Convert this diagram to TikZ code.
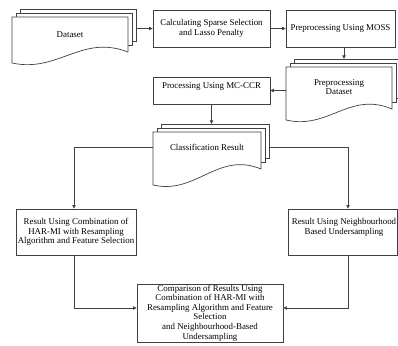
\documentclass[tikz,border=0pt]{standalone}
\usepackage{fontspec}
\setmainfont{Liberation Serif}
\usetikzlibrary{arrows.meta,calc}
\newcommand\docstack[6]{% #1 name, #2 L, #3 T, #4 R, #5 Bl, #6 Br
  \foreach \k in {8,4} {
    \filldraw[ln, fill=white] (#2+\k,#3-\k) rectangle (#4+\k,#6-3-\k);
  }
  \filldraw[ln, fill=white] (#2,#3) -- (#4,#3) -- (#4,#6)
     .. controls ({#2+0.6*(#4-#2)},#6-18) and ({#2+0.4*(#4-#2)},#5+10) .. (#2,#5) -- cycle;
  \node[inner sep=0pt, minimum width={#4+8-#2}, minimum height={#5-#3+8}, anchor=north west] (#1) at (#2,#3-8) {};
}
\begin{document}
\begin{tikzpicture}[x=1pt,y=-1pt,
  ln/.style={draw=black!75, line width=0.7pt},
  box/.style={ln, fill=white, inner sep=0pt, rectangle},
  txt/.style={font=\fontsize{8.9}{9.6}\selectfont, align=center, inner sep=0pt, text=black},
  arr/.style={ln, -{Triangle[length=3.6pt,width=3.4pt]}},
]
\useasboundingbox (0,0) rectangle (398,345);

% documents
\docstack{ds}{12}{17}{128}{63}{52}
\node[txt] (dstxt) at (70,35) {Dataset};
\docstack{pd}{286}{67}{392}{120}{109}
\node[txt] (pdtxt) at (339,87) {Preprocessing\\Dataset};
\docstack{cls}{153}{132}{261}{185}{169}
\node[txt] (clstxt) at (207,147) {Classification Result};

% boxes
\node[box, minimum width=117pt, minimum height=37pt, txt] (calc) at (211.5,28.5) {Calculating Sparse Selection\\and Lasso Penalty};
\node[box, minimum width=109pt, minimum height=37pt, txt] (moss) at (340.5,28.5) {Preprocessing Using MOSS};
\node[box, minimum width=117pt, minimum height=27pt] (mc) at (211.5,90.5) {};
\node[txt] (mctxt) at (211.5,86.5) {Processing Using MC-CCR};
\node[box, minimum width=120pt, minimum height=46pt, txt] (lbox) at (76,232) {Result Using Combination of\\HAR-MI with Resampling\\Algorithm and Feature Selection};
\node[box, minimum width=109pt, minimum height=46pt] (rbox) at (342.5,232) {};
\node[txt] (rtxt) at (344,227.5) {Result Using Neighbourhood\\Based Undersampling};
\node[box, minimum width=146pt, minimum height=58pt, txt] (final) at (210,313) {Comparison of Results Using\\Combination of HAR-MI with\\Resampling Algorithm and Feature\\Selection\\and Neighbourhood-Based\\Undersampling};
\coordinate (rx) at (348,0);

% connectors
\draw[arr] (calc.west -| ds.east) -- (calc.west);
\draw[arr] (calc.east) -- (moss.west);
\draw[arr] ([xshift=3.5pt]moss.south) -- ([xshift=3.5pt]moss.south |- pd.north);
\draw[arr] (mc.east -| pd.west) -- (mc.east);
\draw[arr] (mc.south) -- (mc.south |- cls.north);
\draw[arr] (clstxt -| cls.west) -| ([xshift=-2pt]lbox.north);
\draw[arr] (clstxt -| cls.east) -| (rx |- rbox.north);
\draw[arr] ([xshift=-2pt]lbox.south) |- ([yshift=5pt]final.west);
\draw[arr] (rx |- rbox.south) |- ([yshift=5pt]final.east);
\end{tikzpicture}
\end{document}
